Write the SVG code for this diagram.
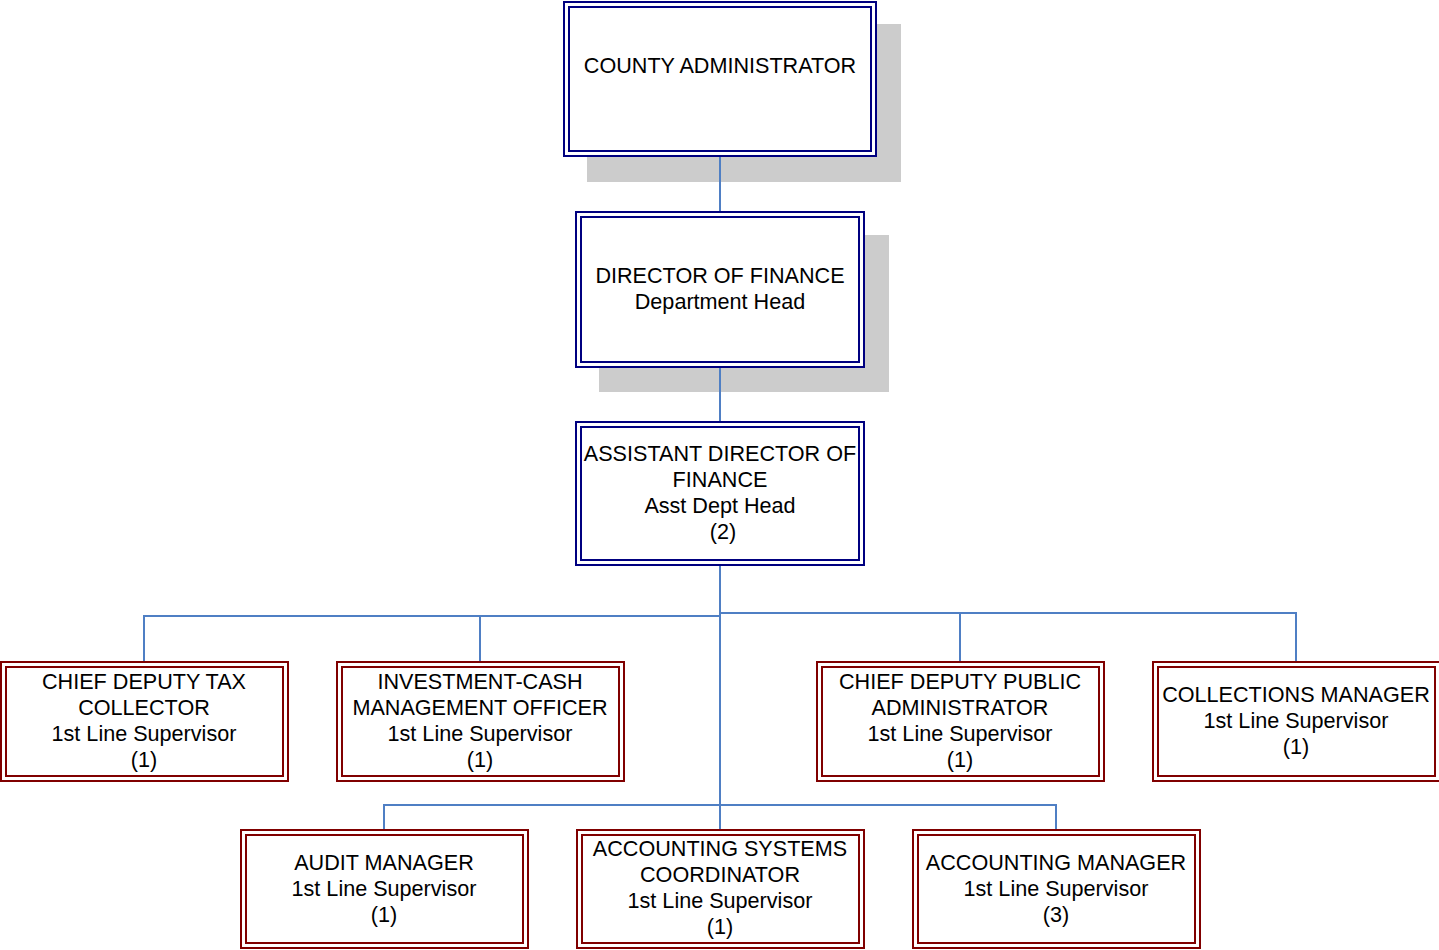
<svg xmlns="http://www.w3.org/2000/svg" width="1439" height="950" viewBox="0 0 1439 950">
  <style>
    .shadow { fill: #cccccc; }
    .navy { fill: none; stroke: #000080; stroke-width: 2; }
    .maroon { fill: none; stroke: #800000; stroke-width: 2; }
    .bg { fill: #ffffff; }
    .link { fill: none; stroke: #4f7fc4; stroke-width: 2; }
    text { font-family: "Liberation Sans", Arial, sans-serif; font-size: 21.6px; fill: #000000; text-anchor: middle; }
  </style>
  <rect width="1439" height="950" fill="#ffffff"/>

  <!-- top level -->
  <g id="county-administrator">
    <rect class="shadow" x="587" y="24" width="314" height="158"/>
    <rect class="bg" x="563" y="1" width="314" height="156"/>
    <rect class="navy" x="564" y="2" width="312" height="154"/>
    <rect class="navy" x="569" y="7" width="302" height="144"/>
    <text x="720" y="73">COUNTY ADMINISTRATOR</text>
  </g>

  <g id="director-of-finance">
    <rect class="shadow" x="599" y="235" width="290" height="157"/>
    <rect class="bg" x="575" y="211" width="290" height="157"/>
    <rect class="navy" x="576" y="212" width="288" height="155"/>
    <rect class="navy" x="581" y="217" width="278" height="145"/>
    <text x="720" y="283">DIRECTOR OF FINANCE</text>
    <text x="720" y="309">Department Head</text>
  </g>

  <g id="assistant-director">
    <rect class="bg" x="575" y="421" width="290" height="145"/>
    <rect class="navy" x="576" y="422" width="288" height="143"/>
    <rect class="navy" x="581" y="427" width="278" height="133"/>
    <text x="720" y="461">ASSISTANT DIRECTOR OF</text>
    <text x="720" y="487">FINANCE</text>
    <text x="720" y="513">Asst Dept Head</text>
    <text x="723" y="539">(2)</text>
  </g>

  <!-- second row -->
  <g id="chief-deputy-tax-collector">
    <rect class="bg" x="0" y="661" width="289" height="121"/>
    <rect class="maroon" x="1" y="662" width="287" height="119"/>
    <rect class="maroon" x="6" y="667" width="277" height="109"/>
    <text x="144" y="689">CHIEF DEPUTY TAX</text>
    <text x="144" y="715">COLLECTOR</text>
    <text x="144" y="741">1st Line Supervisor</text>
    <text x="144" y="767">(1)</text>
  </g>

  <g id="investment-cash-management-officer">
    <rect class="bg" x="336" y="661" width="289" height="121"/>
    <rect class="maroon" x="337" y="662" width="287" height="119"/>
    <rect class="maroon" x="342" y="667" width="277" height="109"/>
    <text x="480" y="689">INVESTMENT-CASH</text>
    <text x="480" y="715">MANAGEMENT OFFICER</text>
    <text x="480" y="741">1st Line Supervisor</text>
    <text x="480" y="767">(1)</text>
  </g>

  <g id="chief-deputy-public-administrator">
    <rect class="bg" x="816" y="661" width="289" height="121"/>
    <rect class="maroon" x="817" y="662" width="287" height="119"/>
    <rect class="maroon" x="822" y="667" width="277" height="109"/>
    <text x="960" y="689">CHIEF DEPUTY PUBLIC</text>
    <text x="960" y="715">ADMINISTRATOR</text>
    <text x="960" y="741">1st Line Supervisor</text>
    <text x="960" y="767">(1)</text>
  </g>

  <g id="collections-manager">
    <rect class="bg" x="1152" y="661" width="289" height="121"/>
    <rect class="maroon" x="1153" y="662" width="287" height="119"/>
    <rect class="maroon" x="1158" y="667" width="277" height="109"/>
    <text x="1296" y="702">COLLECTIONS MANAGER</text>
    <text x="1296" y="728">1st Line Supervisor</text>
    <text x="1296" y="754">(1)</text>
  </g>

  <!-- third row -->
  <g id="audit-manager">
    <rect class="bg" x="240" y="829" width="289" height="120"/>
    <rect class="maroon" x="241" y="830" width="287" height="118"/>
    <rect class="maroon" x="246" y="835" width="277" height="108"/>
    <text x="384" y="870">AUDIT MANAGER</text>
    <text x="384" y="896">1st Line Supervisor</text>
    <text x="384" y="922">(1)</text>
  </g>

  <g id="accounting-systems-coordinator">
    <rect class="bg" x="576" y="829" width="289" height="120"/>
    <rect class="maroon" x="577" y="830" width="287" height="118"/>
    <rect class="maroon" x="582" y="835" width="277" height="108"/>
    <text x="720" y="856">ACCOUNTING SYSTEMS</text>
    <text x="720" y="882">COORDINATOR</text>
    <text x="720" y="908">1st Line Supervisor</text>
    <text x="720" y="934">(1)</text>
  </g>

  <g id="accounting-manager">
    <rect class="bg" x="912" y="829" width="289" height="120"/>
    <rect class="maroon" x="913" y="830" width="287" height="118"/>
    <rect class="maroon" x="918" y="835" width="277" height="108"/>
    <text x="1056" y="870">ACCOUNTING MANAGER</text>
    <text x="1056" y="896">1st Line Supervisor</text>
    <text x="1056" y="922">(3)</text>
  </g>

  <!-- connectors, drawn over the shadows -->
  <g id="connectors">
    <path class="link" d="M720 157 V211"/>
    <path class="link" d="M720 368 V421"/>
    <path class="link" d="M720 566 V829"/>
    <path class="link" d="M144 661 V616 H720"/>
    <path class="link" d="M480 616 V661"/>
    <path class="link" d="M720 613 H1296 V661"/>
    <path class="link" d="M960 613 V661"/>
    <path class="link" d="M384 829 V805 H1056 V829"/>
  </g>
</svg>
